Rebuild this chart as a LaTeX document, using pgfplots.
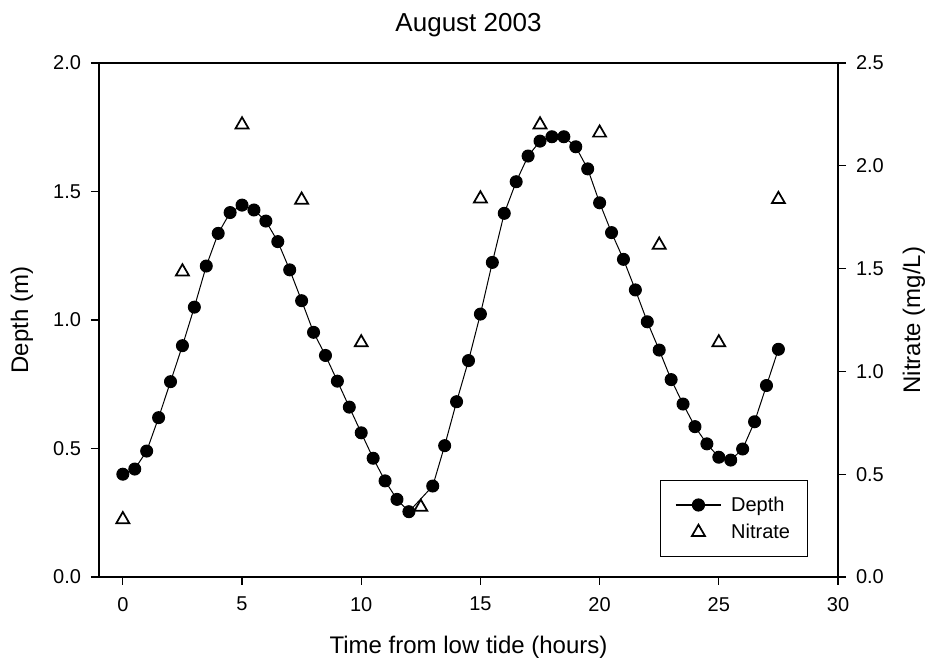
\documentclass[border=0pt]{standalone}
\usepackage{fontspec}
\setmainfont{Liberation Sans}
\usepackage{pgfplots}
\pgfplotsset{compat=1.18}
\usetikzlibrary{calc}
\pgfplotsset{
  common/.style={
    width=554.25pt, height=385.5pt, scale only axis,
    xmin=-1, xmax=30,
    axis line style={line width=1pt},
    tick style={line width=0.9pt, black},
    major tick length=6pt,
    tick align=outside,
    tick label style={font=\fontsize{15}{17}\selectfont},
    label style={font=\fontsize{18}{21}\selectfont},
    /pgf/number format/assume math mode=true,
  },
  depthlegend/.style={legend image code/.code={\draw[##1, mark repeat=2, mark phase=2] plot coordinates {(0cm,0cm) (0.6cm,0cm) (1.2cm,0cm)};}},
  nitratelegend/.style={legend image code/.code={\draw[##1] plot coordinates {(0.6cm,0cm)};}},
}
\begin{document}
\begin{tikzpicture}
\begin{axis}[common,
  ymin=0, ymax=2,
  xtick={0,5,...,30},
  ytick={0,0.5,...,2},
  xtick pos=bottom, ytick pos=left,
  xticklabel style={yshift=-5.5pt},
  yticklabel style={xshift=-4pt, /pgf/number format/.cd,fixed,fixed zerofill,precision=1},
  title={August 2003},
  title style={font=\fontsize{19.5}{22}\selectfont, at={(0.5,1.0448)}, anchor=base},
  xlabel={Time from low tide (hours)},
  xlabel style={at={(0.5,-0.148)}, anchor=base},
  ylabel={Depth (m)},
  ylabel style={at={(-0.1042,0.5)}, anchor=center},
]
\addplot[black, line width=0.75pt, mark=*, mark size=4.5pt] coordinates {
(0,0.40) (0.5,0.42) (1,0.49) (1.5,0.62) (2,0.76) (2.5,0.90) (3,1.05) (3.5,1.21)
(4,1.337) (4.5,1.418) (5,1.447) (5.5,1.428) (6,1.385) (6.5,1.305) (7,1.195)
(7.5,1.075) (8,0.952) (8.5,0.862) (9,0.762) (9.5,0.661) (10,0.561) (10.5,0.462)
(11,0.374) (11.5,0.302) (12,0.254) (13,0.354) (13.5,0.511) (14,0.682)
(14.5,0.842) (15,1.023) (15.5,1.224) (16,1.415) (16.5,1.538) (17,1.638)
(17.5,1.696) (18,1.713) (18.5,1.713) (19,1.674) (19.5,1.588) (20,1.456)
(20.5,1.340) (21,1.236) (21.5,1.117) (22,0.993) (22.5,0.883) (23,0.768)
(23.5,0.673) (24,0.585) (24.5,0.518) (25,0.466) (25.5,0.455) (26,0.498)
(26.5,0.604) (27,0.745) (27.5,0.886)
};
\end{axis}
\begin{axis}[common,
  ymin=0, ymax=2.5,
  axis x line=none,
  axis y line*=right,
  ytick={0,0.5,...,2.5},
  yticklabel style={xshift=4pt, /pgf/number format/.cd,fixed,fixed zerofill,precision=1},
  ylabel={Nitrate (mg/L)},
  ylabel style={at={(1.1028,0.5)}, anchor=center, rotate=0},
  legend style={at={(0.9594,0.0389)}, anchor=south east, draw=black, line width=0.9pt,
    font=\fontsize{15}{17}\selectfont, row sep=4pt, column sep=5pt, inner xsep=11pt, inner ysep=10pt,
    cells={anchor=west}},
]
\addlegendimage{black, line width=0.9pt, mark=*, mark size=4.5pt, depthlegend}
\addlegendentry{Depth}
\addplot[only marks, black, mark=triangle, mark size=5.6pt, mark options={line width=1.3pt}, nitratelegend] coordinates {
(0,0.28) (2.5,1.485) (5,2.20) (7.5,1.834) (10,1.14) (12.5,0.34) (15,1.84)
(17.5,2.20) (20,2.16) (22.5,1.615) (25,1.14) (27.5,1.837)
};
\addlegendentry{Nitrate}
\end{axis}
\pgfresetboundingbox
\path[use as bounding box] ($(current axis.south west)+(-74.25pt,-66pt)$) rectangle ($(current axis.north east)+(70.5pt,47.25pt)$);
\end{tikzpicture}
\end{document}
